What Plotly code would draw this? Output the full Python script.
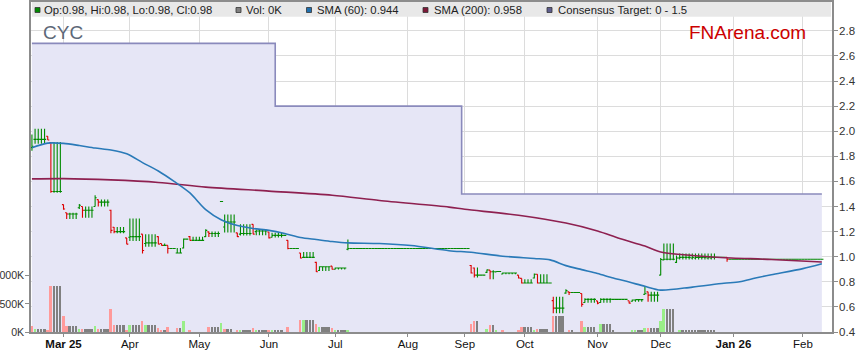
import pandas as pd
import plotly.graph_objects as go

# ---------------- data ----------------
FIRST_DAY = "2025-02-17"
LAST_DAY = "2026-02-10"
NO_DATA_DAYS = ["2025-08-18", "2025-08-19", "2025-08-20",
                "2025-09-01", "2025-09-02", "2025-09-03"]
PRIOR_CLOSE = 1.95

opens = [
    1.87, 1.935, 1.935, 1.935, 1.935,     # Feb 17
    1.96, 1.91, 1.52, 1.52, 1.52,         # Feb 24
    1.415, 1.35, 1.34, 1.34, 1.34,        # Mar 3
    1.39, 1.40, 1.37, 1.37, 1.37,         # Mar 10
    1.40, 1.455, 1.435, 1.435, 1.435,     # Mar 17
    1.37, 1.235, 1.20, 1.20, 1.20,        # Mar 24
    1.15, 1.155, 1.16, 1.16, 1.16,        # Mar 31
    1.18, 1.105, 1.11, 1.11, 1.11,        # Apr 7
    1.16, 1.105, 1.09, 1.09, 1.065,       # Apr 14
    1.065, 1.03, 1.03, 1.07, 1.14,        # Apr 21
    1.16, 1.13, 1.13, 1.13, 1.13,         # Apr 28
    1.16, 1.198, 1.185, 1.185, 1.185,     # May 5
    1.44, 1.237, 1.277, 1.277, 1.277,     # May 12
    1.19, 1.18, 1.185, 1.185, 1.185,      # May 19
    1.258, 1.20, 1.205, 1.205, 1.205,     # May 26
    1.197, 1.155, 1.17, 1.17, 1.17,       # Jun 2
    1.17, 1.13, 1.065, 1.065, 1.065,      # Jun 9
    1.03, 0.995, 0.995, 0.995, 0.995,     # Jun 16
    0.955, 0.89, 0.92, 0.92, 0.92,        # Jun 23
    0.925, 0.90, 0.91, 0.91, 0.91,        # Jun 30
    1.06, 1.065, 1.065, 1.065, 1.065,     # Jul 7
    1.065, 1.065, 1.065, 1.065, 1.065,    # Jul 14
    1.065, 1.065, 1.065, 1.065, 1.065,    # Jul 21
    1.065, 1.065, 1.065, 1.065, 1.065,    # Jul 28
    1.065, 1.065, 1.065, 1.065, 1.065,    # Aug 4
    1.065, 1.065, 1.065, 1.065, 1.065,    # Aug 11
    1.065, 1.065,                         # Aug 21
    1.065, 1.065, 1.065, 1.065, 1.065,    # Aug 25
    1.065, 1.065,                         # Sep 4
    0.93, 0.91, 0.853, 0.853, 0.853,      # Sep 8
    0.875, 0.893, 0.88, 0.879, 0.882,     # Sep 15
    0.862, 0.87, 0.87, 0.87, 0.87,        # Sep 22
    0.853, 0.827, 0.79, 0.79, 0.79,       # Sep 29
    0.83, 0.86, 0.79, 0.79, 0.79,         # Oct 6
    0.79, 0.65, 0.59, 0.59, 0.59,         # Oct 13
    0.71, 0.72, 0.715, 0.715, 0.715,      # Oct 20
    0.707, 0.635, 0.66, 0.66, 0.66,       # Oct 27
    0.648, 0.635, 0.66, 0.66, 0.66,       # Nov 3
    0.66, 0.66, 0.66, 0.66, 0.66,         # Nov 10
    0.649, 0.645, 0.655, 0.658, 0.658,    # Nov 17
    0.70, 0.72, 0.694, 0.694, 0.694,      # Nov 24
    0.853, 0.975, 0.98, 0.98, 0.98,       # Dec 1
    0.955, 0.99, 0.995, 0.995, 0.995,     # Dec 8
    0.99, 0.99, 0.995, 0.995, 0.995,      # Dec 15
    0.99, 0.99, 0.995, 0.995, 0.995,      # Dec 22
    0.995, 0.995, 0.98, 0.98, 0.98,       # Dec 29
    0.98, 0.98, 0.98, 0.98, 0.98,         # Jan 5
    0.98, 0.98, 0.98, 0.98, 0.98,         # Jan 12
    0.98, 0.98, 0.98, 0.98, 0.98,         # Jan 19
    0.98, 0.98, 0.98, 0.98, 0.98,         # Jan 26
    0.98, 0.98, 0.98, 0.98, 0.98,         # Feb 2
    0.98, 0.98,                           # Feb 9
]

highs = [
    1.975, 2.02, 2.02, 2.02, 2.02,
    1.96, 1.915, 1.915, 1.915, 1.915,
    1.417, 1.35, 1.35, 1.35, 1.35,
    1.42, 1.40, 1.40, 1.40, 1.40,
    1.49, 1.455, 1.455, 1.455, 1.455,
    1.375, 1.237, 1.237, 1.237, 1.237,
    1.15, 1.305, 1.305, 1.305, 1.305,
    1.18, 1.18, 1.18, 1.18, 1.18,
    1.163, 1.105, 1.105, 1.09, 1.065,
    1.065, 1.07, 1.07, 1.145, 1.14,
    1.166, 1.16, 1.16, 1.16, 1.16,
    1.218, 1.20, 1.20, 1.20, 1.20,
    1.44, 1.336, 1.336, 1.336, 1.336,
    1.19, 1.258, 1.258, 1.258, 1.258,
    1.258, 1.217, 1.217, 1.217, 1.217,
    1.197, 1.19, 1.19, 1.19, 1.19,
    1.17, 1.131, 1.065, 1.065, 1.065,
    1.03, 1.038, 1.038, 1.038, 1.038,
    0.959, 0.925, 0.925, 0.925, 0.925,
    0.925, 0.915, 0.915, 0.915, 0.915,
    1.137, 1.065, 1.065, 1.065, 1.065,
    1.065, 1.065, 1.065, 1.065, 1.065,
    1.065, 1.065, 1.065, 1.065, 1.065,
    1.065, 1.065, 1.065, 1.065, 1.065,
    1.065, 1.065, 1.065, 1.065, 1.065,
    1.065, 1.065, 1.065, 1.065, 1.065,
    1.065, 1.065,
    1.065, 1.065, 1.065, 1.065, 1.065,
    1.065, 1.065,
    0.933, 0.914, 0.914, 0.853, 0.853,
    0.898, 0.893, 0.893, 0.882, 0.882,
    0.874, 0.874, 0.874, 0.874, 0.874,
    0.853, 0.827, 0.82, 0.82, 0.82,
    0.866, 0.861, 0.861, 0.861, 0.861,
    0.79, 0.68, 0.68, 0.68, 0.68,
    0.74, 0.72, 0.715, 0.715, 0.715,
    0.707, 0.668, 0.668, 0.668, 0.668,
    0.648, 0.668, 0.668, 0.668, 0.668,
    0.66, 0.66, 0.66, 0.66, 0.66,
    0.649, 0.66, 0.66, 0.66, 0.66,
    0.766, 0.72, 0.72, 0.72, 0.72,
    0.99, 1.105, 1.105, 1.105, 1.105,
    1.01, 1.025, 1.025, 1.025, 1.025,
    1.025, 1.025, 1.025, 1.025, 1.025,
    1.025, 1.025, 1.025, 0.995, 0.995,
    0.995, 0.995, 0.98, 0.98, 0.98,
    0.98, 0.98, 0.98, 0.98, 0.98,
    0.98, 0.98, 0.98, 0.98, 0.98,
    0.98, 0.98, 0.98, 0.98, 0.98,
    0.98, 0.98, 0.98, 0.98, 0.98,
    0.98, 0.98, 0.98, 0.98, 0.98,
    0.98, 0.98,
]

lows = [
    1.845, 1.90, 1.90, 1.90, 1.90,
    1.93, 1.51, 1.51, 1.51, 1.51,
    1.375, 1.30, 1.30, 1.30, 1.30,
    1.38, 1.31, 1.31, 1.31, 1.31,
    1.40, 1.40, 1.40, 1.40, 1.40,
    1.187, 1.187, 1.187, 1.187, 1.187,
    1.10, 1.125, 1.125, 1.125, 1.125,
    1.026, 1.08, 1.08, 1.08, 1.08,
    1.10, 1.09, 1.09, 1.025, 1.065,
    1.065, 1.025, 1.025, 1.065, 1.14,
    1.13, 1.13, 1.13, 1.13, 1.13,
    1.157, 1.158, 1.158, 1.158, 1.158,
    1.44, 1.193, 1.193, 1.193, 1.193,
    1.157, 1.17, 1.17, 1.17, 1.17,
    1.179, 1.171, 1.171, 1.171, 1.171,
    1.145, 1.153, 1.153, 1.153, 1.153,
    1.17, 1.06, 1.065, 1.065, 1.065,
    0.986, 0.994, 0.994, 0.994, 0.994,
    0.879, 0.887, 0.887, 0.887, 0.887,
    0.898, 0.898, 0.898, 0.898, 0.898,
    1.052, 1.065, 1.065, 1.065, 1.065,
    1.065, 1.065, 1.065, 1.065, 1.065,
    1.065, 1.065, 1.065, 1.065, 1.065,
    1.065, 1.065, 1.065, 1.065, 1.065,
    1.065, 1.065, 1.065, 1.065, 1.065,
    1.065, 1.065, 1.065, 1.065, 1.065,
    1.065, 1.065,
    1.065, 1.065, 1.065, 1.065, 1.065,
    1.065, 1.065,
    0.867, 0.834, 0.834, 0.853, 0.853,
    0.871, 0.82, 0.82, 0.879, 0.882,
    0.861, 0.861, 0.861, 0.861, 0.861,
    0.827, 0.787, 0.787, 0.787, 0.787,
    0.827, 0.787, 0.787, 0.787, 0.787,
    0.79, 0.55, 0.55, 0.55, 0.55,
    0.705, 0.694, 0.715, 0.715, 0.715,
    0.601, 0.633, 0.633, 0.633, 0.633,
    0.622, 0.633, 0.633, 0.633, 0.633,
    0.66, 0.66, 0.66, 0.66, 0.66,
    0.628, 0.641, 0.641, 0.641, 0.641,
    0.70, 0.641, 0.641, 0.641, 0.641,
    0.853, 0.972, 0.972, 0.972, 0.972,
    0.95, 0.978, 0.978, 0.978, 0.978,
    0.978, 0.978, 0.978, 0.978, 0.978,
    0.978, 0.978, 0.978, 0.995, 0.995,
    0.995, 0.96, 0.98, 0.98, 0.98,
    0.98, 0.98, 0.98, 0.98, 0.98,
    0.98, 0.98, 0.98, 0.98, 0.98,
    0.98, 0.98, 0.98, 0.98, 0.98,
    0.98, 0.98, 0.98, 0.98, 0.98,
    0.98, 0.98, 0.98, 0.98, 0.98,
    0.98, 0.98,
]

closes = [
    1.88, 1.935, 1.935, 1.935, 1.935,
    1.93, 1.52, 1.52, 1.52, 1.52,
    1.38, 1.34, 1.34, 1.34, 1.34,
    1.41, 1.37, 1.37, 1.37, 1.37,
    1.47, 1.435, 1.435, 1.435, 1.435,
    1.21, 1.20, 1.20, 1.20, 1.20,
    1.10, 1.16, 1.16, 1.16, 1.16,
    1.05, 1.11, 1.11, 1.11, 1.11,
    1.10, 1.09, 1.09, 1.065, 1.065,
    1.065, 1.03, 1.03, 1.14, 1.14,
    1.13, 1.13, 1.13, 1.13, 1.13,
    1.21, 1.185, 1.185, 1.185, 1.185,
    1.44, 1.277, 1.277, 1.277, 1.277,
    1.16, 1.185, 1.185, 1.185, 1.185,
    1.18, 1.205, 1.205, 1.205, 1.205,
    1.15, 1.17, 1.17, 1.17, 1.17,
    1.17, 1.065, 1.065, 1.065, 1.065,
    0.99, 0.995, 0.995, 0.995, 0.995,
    0.88, 0.92, 0.92, 0.92, 0.92,
    0.90, 0.91, 0.91, 0.91, 0.91,
    1.065, 1.065, 1.065, 1.065, 1.065,
    1.065, 1.065, 1.065, 1.065, 1.065,
    1.065, 1.065, 1.065, 1.065, 1.065,
    1.065, 1.065, 1.065, 1.065, 1.065,
    1.065, 1.065, 1.065, 1.065, 1.065,
    1.065, 1.065, 1.065, 1.065, 1.065,
    1.065, 1.065,
    1.065, 1.065, 1.065, 1.065, 1.065,
    1.065, 1.065,
    0.87, 0.853, 0.853, 0.853, 0.853,
    0.895, 0.88, 0.88, 0.882, 0.882,
    0.87, 0.87, 0.87, 0.87, 0.87,
    0.83, 0.79, 0.79, 0.79, 0.79,
    0.86, 0.79, 0.79, 0.79, 0.79,
    0.79, 0.59, 0.59, 0.59, 0.59,
    0.73, 0.715, 0.715, 0.715, 0.715,
    0.62, 0.66, 0.66, 0.66, 0.66,
    0.63, 0.66, 0.66, 0.66, 0.66,
    0.66, 0.66, 0.66, 0.66, 0.66,
    0.63, 0.655, 0.658, 0.658, 0.658,
    0.705, 0.694, 0.694, 0.694, 0.694,
    0.978, 0.98, 0.98, 0.98, 0.98,
    0.99, 0.995, 0.995, 0.995, 0.995,
    0.995, 0.995, 0.995, 0.995, 0.995,
    0.995, 0.995, 0.995, 0.995, 0.995,
    0.995, 0.98, 0.98, 0.98, 0.98,
    0.98, 0.98, 0.98, 0.98, 0.98,
    0.98, 0.98, 0.98, 0.98, 0.98,
    0.98, 0.98, 0.98, 0.98, 0.98,
    0.98, 0.98, 0.98, 0.98, 0.98,
    0.98, 0.98, 0.98, 0.98, 0.98,
    0.98, 0.98,
]

volumes_k = [
    113, 60, 60, 60, 60,
    42, 815, 815, 815, 815,
    280, 100, 100, 100, 100,
    60, 60, 60, 60, 60,
    100, 60, 60, 60, 60,
    400, 130, 130, 130, 130,
    42, 130, 130, 130, 130,
    190, 130, 130, 130, 130,
    71, 24, 24, 89, 0,
    0, 71, 71, 190, 0,
    24, 0, 0, 0, 0,
    0, 89, 89, 89, 89,
    160, 54, 54, 54, 0,
    42, 42, 42, 42, 42,
    71, 22, 22, 22, 22,
    22, 22, 22, 22, 22,
    0, 89, 0, 0, 0,
    220, 220, 220, 220, 220,
    149, 89, 89, 89, 89,
    71, 42, 42, 42, 42,
    18, 0, 0, 0, 0,
    0, 0, 0, 0, 0,
    0, 0, 0, 0, 0,
    0, 0, 0, 0, 0,
    0, 0, 0, 0, 0,
    0, 0, 0, 0, 0,
    0, 0,
    0, 0, 0, 0, 0,
    0, 0,
    149, 190, 190, 0, 0,
    60, 130, 130, 42, 0,
    18, 0, 0, 0, 0,
    42, 89, 89, 89, 89,
    18, 60, 60, 60, 60,
    0, 290, 290, 290, 290,
    0, 18, 18, 0, 0,
    200, 89, 89, 89, 89,
    0, 149, 149, 149, 149,
    18, 0, 0, 0, 0,
    0, 18, 18, 18, 18,
    71, 71, 71, 71, 71,
    200, 400, 400, 400, 400,
    0, 18, 18, 18, 18,
    18, 18, 18, 18, 18,
    18, 18, 18, 0, 0,
    0, 0, 0, 0, 0,
    0, 0, 0, 0, 0,
    0, 0, 0, 0, 0,
    0, 0, 0, 0, 0,
    0, 0, 0, 0, 0,
    0, 0, 0, 0, 0,
    0, 0,
]

sma60_dates = ["2025-02-17", "2025-02-24", "2025-03-03", "2025-03-10", "2025-03-17",
               "2025-03-24", "2025-03-31", "2025-04-07", "2025-04-14", "2025-04-21",
               "2025-04-28", "2025-05-05", "2025-05-12", "2025-05-19", "2025-05-26",
               "2025-06-02", "2025-06-09", "2025-06-16", "2025-06-23", "2025-06-30",
               "2025-07-07", "2025-07-21", "2025-08-04", "2025-08-25", "2025-09-08",
               "2025-09-22", "2025-10-06", "2025-10-13", "2025-10-20", "2025-10-27",
               "2025-11-03", "2025-11-10", "2025-11-17", "2025-11-24", "2025-12-01",
               "2025-12-15", "2025-12-29", "2026-01-05", "2026-01-12", "2026-01-19",
               "2026-02-02", "2026-02-10"]
sma60_values = [1.868, 1.905, 1.903, 1.886, 1.866,
                1.850, 1.820, 1.750, 1.683, 1.600,
                1.508, 1.375, 1.293, 1.248, 1.225,
                1.210, 1.185, 1.153, 1.137, 1.121,
                1.110, 1.105, 1.089, 1.048, 1.035,
                1.004, 0.986, 0.975, 0.929, 0.897,
                0.866, 0.830, 0.798, 0.764, 0.734,
                0.758, 0.788, 0.800, 0.830, 0.856,
                0.905, 0.944]

sma200_dates = ["2025-02-17", "2025-03-03", "2025-03-24", "2025-04-14", "2025-05-05",
                "2025-06-02", "2025-06-30", "2025-07-21", "2025-08-25", "2025-09-04",
                "2025-09-29", "2025-10-20", "2025-11-03", "2025-11-12", "2025-11-24",
                "2025-12-01", "2025-12-15", "2025-12-26", "2026-01-19", "2026-02-10"]
sma200_values = [1.620, 1.622, 1.612, 1.592, 1.555,
                 1.523, 1.490, 1.448, 1.395, 1.378,
                 1.330, 1.268, 1.205, 1.145, 1.085,
                 1.038, 1.010, 0.994, 0.978, 0.958]

target_dates = ["2025-02-17", "2025-06-04", "2025-08-29", "2026-02-10"]
target_values = [2.7, 2.2, 1.5, 1.5]

month_ticks = ["2025-03-03", "2025-04-01", "2025-05-01", "2025-06-02", "2025-07-01",
               "2025-08-01", "2025-09-04", "2025-10-01", "2025-11-03", "2025-12-01",
               "2026-01-01", "2026-02-02"]
month_labels = ["<b>Mar 25</b>", "Apr", "May", "Jun", "Jul", "Aug", "Sep", "Oct",
                "Nov", "Dec", "<b>Jan 26</b>", "Feb"]
price_ticks = [0.4, 0.6, 0.8, 1.0, 1.2, 1.4, 1.6, 1.8, 2.0, 2.2, 2.4, 2.6, 2.8]
volume_ticks = [0, 500, 1000]
volume_labels = ["0K", "500K", "1000K"]

# ---------------- build ----------------
days = [d.strftime("%Y-%m-%d") for d in pd.bdate_range(FIRST_DAY, LAST_DAY)
        if d.strftime("%Y-%m-%d") not in NO_DATA_DAYS]
n = min(len(days), len(closes), len(opens), len(highs), len(lows), len(volumes_k))
days = days[:n]

GREEN = "#008a00"
RED = "#dd0000"
VOL_UP = "#99ee88"
VOL_DN = "#ff9a9a"
VOL_FLAT = "#808080"

prev = [PRIOR_CLOSE] + closes[:n - 1]
vol_colors = [VOL_UP if closes[i] > prev[i] else (VOL_DN if closes[i] < prev[i] else VOL_FLAT)
              for i in range(n)]

up = [i for i in range(n) if closes[i] >= opens[i]]
dn = [i for i in range(n) if closes[i] < opens[i]]

PRICE_RANGE = [0.4, 3.03]

fig = go.Figure()

# consensus target area (bottom layer, main axes)
fig.add_trace(go.Scatter(
    x=target_dates, y=target_values, mode="lines",
    line=dict(shape="hv", color="#8a8abc", width=1.6),
    fill="tozeroy", fillcolor="#e6e6f6", hoverinfo="skip", showlegend=False))

# volume (overlay y2)
fig.add_trace(go.Bar(
    x=days, y=volumes_k[:n], marker=dict(color=vol_colors, line=dict(width=0)),
    width=0.62 * 86400000, yaxis="y2", hoverinfo="skip", showlegend=False))

# price bars and moving averages (overlay y3)
for idx, col in ((up, GREEN), (dn, RED)):
    fig.add_trace(go.Ohlc(
        x=[days[i] for i in idx],
        open=[opens[i] for i in idx], high=[highs[i] for i in idx],
        low=[lows[i] for i in idx], close=[closes[i] for i in idx],
        increasing=dict(line=dict(color=col, width=1.1)),
        decreasing=dict(line=dict(color=col, width=1.1)),
        tickwidth=0.5, yaxis="y3", hoverinfo="skip", showlegend=False))

fig.add_trace(go.Scatter(
    x=sma200_dates, y=sma200_values, mode="lines", yaxis="y3",
    line=dict(color="#8e2050", width=1.6, shape="spline", smoothing=0.8),
    hoverinfo="skip", showlegend=False))

fig.add_trace(go.Scatter(
    x=sma60_dates, y=sma60_values, mode="lines", yaxis="y3",
    line=dict(color="#2a7ab8", width=1.6, shape="spline", smoothing=0.8),
    hoverinfo="skip", showlegend=False))

# ---------------- layout ----------------
L, R, T, B = 31, 27, 2, 31
W, H = 859, 363
PW, PH = W - L - R, H - T - B


def px(x):
    return (x - L) / PW


def py(y):
    return (H - B - y) / PH


AXIS_GREY = "#8c8c8c"
FONT = "Arial, Liberation Sans, sans-serif"

fig.update_layout(
    width=W, height=H, autosize=False,
    margin=dict(l=L, r=R, t=T, b=B),
    paper_bgcolor="white", plot_bgcolor="white",
    font=dict(family=FONT, size=11, color="#222"),
    showlegend=False, hovermode=False, bargap=0,
    xaxis=dict(
        type="date", range=["2025-02-14 17:00", "2026-02-13 05:00"],
        rangeslider=dict(visible=False), automargin=False,
        rangebreaks=[dict(bounds=["sat", "mon"]), dict(values=NO_DATA_DAYS)],
        tickmode="array", tickvals=month_ticks, ticktext=month_labels,
        showgrid=True, gridcolor="#dcdcdc", gridwidth=1,
        showline=True, linecolor=AXIS_GREY, linewidth=1.5, mirror=True,
        ticks="outside", ticklen=3, tickcolor=AXIS_GREY, ticklabelstandoff=-3,
        tickfont=dict(size=11.5, color="#111"), zeroline=False),
    yaxis=dict(
        side="right", range=PRICE_RANGE, tickmode="array", tickvals=price_ticks,
        ticktext=["%.1f" % v for v in price_ticks], automargin=False,
        showgrid=True, gridcolor="#dcdcdc", gridwidth=1,
        showline=True, linecolor=AXIS_GREY, linewidth=1.5,
        ticks="outside", ticklen=4, tickcolor=AXIS_GREY, ticklabelstandoff=-1,
        tickfont=dict(size=11.5, color="#333"), zeroline=False),
    yaxis2=dict(
        overlaying="y", side="left", range=[0, 5860], tickmode="array",
        tickvals=volume_ticks, ticktext=volume_labels, showgrid=False,
        automargin=False,
        showline=True, linecolor=AXIS_GREY, linewidth=1.5,
        ticks="outside", ticklen=4, tickcolor=AXIS_GREY, ticklabelstandoff=-1,
        tickfont=dict(size=10.6, color="#333"), zeroline=False),
    yaxis3=dict(
        overlaying="y", side="right", range=PRICE_RANGE, visible=False,
        showgrid=False, automargin=False, zeroline=False),
)

shapes = [
    dict(type="rect", xref="paper", yref="paper", x0=px(32), x1=px(831),
         y0=py(16.7), y1=1, fillcolor="#e8e8e8", line=dict(width=0), layer="above"),
]
legend_items = [
    (35, GREEN, "Op:0.98, Hi:0.98, Lo:0.98, Cl:0.98", 42),
    (236, "#808080", "Vol: 0K", 244),
    (306.5, "#1f6fae", "SMA (60): 0.944", 315),
    (423, "#7d1838", "SMA (200): 0.958", 432),
    (547, "#5e5e8e", "Consensus Target: 0 - 1.5", 556),
]
annotations = []
for sx, col, text, tx in legend_items:
    shapes.append(dict(type="rect", xref="paper", yref="paper",
                       x0=px(sx), x1=px(sx + 5), y0=py(12.5), y1=py(7.5),
                       fillcolor=col, line=dict(color="#333", width=0.8), layer="above"))
    annotations.append(dict(x=px(tx), y=py(10), xref="paper", yref="paper",
                            text=text, showarrow=False, xanchor="left", yanchor="middle",
                            font=dict(family=FONT, size=11.3, color="#222")))

annotations.append(dict(x=px(41), y=py(32), xref="paper", yref="paper", text="CYC",
                        showarrow=False, xanchor="left", yanchor="middle",
                        font=dict(family=FONT, size=19, color="#5d6878")))
annotations.append(dict(x=px(687), y=py(32), xref="paper", yref="paper", text="FNArena.com",
                        showarrow=False, xanchor="left", yanchor="middle",
                        font=dict(family=FONT, size=19, color="#cc0000")))

fig.update_layout(shapes=shapes, annotations=annotations)

fig.write_html("out.html", config={"displayModeBar": False},
               post_script="document.body.style.margin='0px';"
                           "document.body.style.overflow='hidden';")
